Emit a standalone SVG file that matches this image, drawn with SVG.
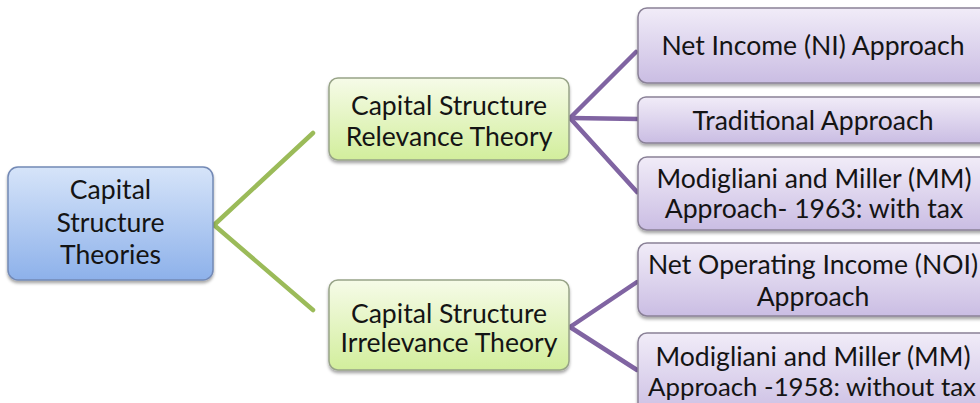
<svg xmlns="http://www.w3.org/2000/svg" width="980" height="403" viewBox="0 0 980 403">
  <defs>
    <linearGradient id="gBlue" x1="0" y1="0" x2="0" y2="1">
      <stop offset="0" stop-color="#d6e4f9"/>
      <stop offset="1" stop-color="#8db1ea"/>
    </linearGradient>
    <linearGradient id="gGreen" x1="0" y1="0" x2="0" y2="1">
      <stop offset="0" stop-color="#f6fbe8"/>
      <stop offset="1" stop-color="#d2ee9c"/>
    </linearGradient>
    <linearGradient id="gPurple" x1="0" y1="0" x2="0" y2="1">
      <stop offset="0" stop-color="#f1ecf8"/>
      <stop offset="1" stop-color="#cabde3"/>
    </linearGradient>
    <filter id="shadow" x="-10%" y="-10%" width="120%" height="130%">
      <feDropShadow dx="0" dy="2.5" stdDeviation="1.6" flood-color="#000" flood-opacity="0.35"/>
    </filter>
  </defs>
  <style>
    .box { filter: url(#shadow); stroke-width: 1.5; }
    .root { fill: url(#gBlue); stroke: #7389b5; }
    .mid { fill: url(#gGreen); stroke: #98a488; }
    .leaf { fill: url(#gPurple); stroke: #8a8197; }
    text { font-family: Lato, "Open Sans", "Liberation Sans", sans-serif; font-size: 26.6px; fill: #141414; text-anchor: middle; }
    .tight { font-size: 25.8px; }
    .green { stroke: #9bbb59; stroke-width: 4.5; fill: none; stroke-linecap: round; }
    .violet { stroke: #8064a2; stroke-width: 4.5; fill: none; stroke-linecap: round; }
  </style>

  <rect width="980" height="403" fill="#ffffff"/>

  <!-- connectors -->
  <g id="connectors">
    <line class="green" x1="214" y1="225" x2="313" y2="133"/>
    <line class="green" x1="214" y1="225" x2="313" y2="310"/>
    <line class="violet" x1="570" y1="118" x2="636" y2="52"/>
    <line class="violet" x1="570" y1="118" x2="639" y2="119"/>
    <line class="violet" x1="570" y1="118" x2="637" y2="192"/>
    <line class="violet" x1="570" y1="327" x2="637" y2="282"/>
    <line class="violet" x1="570" y1="327" x2="637" y2="370"/>
  </g>

  <!-- root -->
  <g id="capital-structure-theories">
    <rect class="box root" x="8" y="167" width="205" height="113" rx="10"/>
    <text x="110.5" y="199">Capital</text>
    <text x="110.5" y="232">Structure</text>
    <text x="110.5" y="264">Theories</text>
  </g>

  <!-- second level -->
  <g id="relevance-theory">
    <rect class="box mid" x="329" y="78" width="240" height="82" rx="9"/>
    <text x="449" y="115">Capital Structure</text>
    <text x="449" y="146">Relevance Theory</text>
  </g>
  <g id="irrelevance-theory">
    <rect class="box mid" x="329" y="280" width="240" height="90" rx="9"/>
    <text x="449" y="323">Capital Structure</text>
    <text x="449" y="352">Irrelevance Theory</text>
  </g>

  <!-- approaches -->
  <g id="net-income">
    <rect class="box leaf" x="638" y="8" width="352" height="75" rx="9"/>
    <text x="813" y="55">Net Income (NI) Approach</text>
  </g>
  <g id="traditional">
    <rect class="box leaf" x="638" y="97" width="352" height="46" rx="8"/>
    <text x="813" y="130">Traditional Approach</text>
  </g>
  <g id="mm-1963">
    <rect class="box leaf" x="638" y="157" width="352" height="73" rx="9"/>
    <text x="814" y="188">Modigliani and Miller (MM)</text>
    <text x="814" y="218">Approach- 1963: with tax</text>
  </g>
  <g id="net-operating-income">
    <rect class="box leaf" x="638" y="243" width="352" height="73" rx="9"/>
    <text x="813" y="274">Net Operating Income (NOI)</text>
    <text x="813" y="306">Approach</text>
  </g>
  <g id="mm-1958">
    <rect class="box leaf" x="638" y="333" width="352" height="85" rx="9"/>
    <text x="813" y="366">Modigliani and Miller (MM)</text>
    <text class="tight" x="812" y="396">Approach -1958: without tax</text>
  </g>
</svg>
